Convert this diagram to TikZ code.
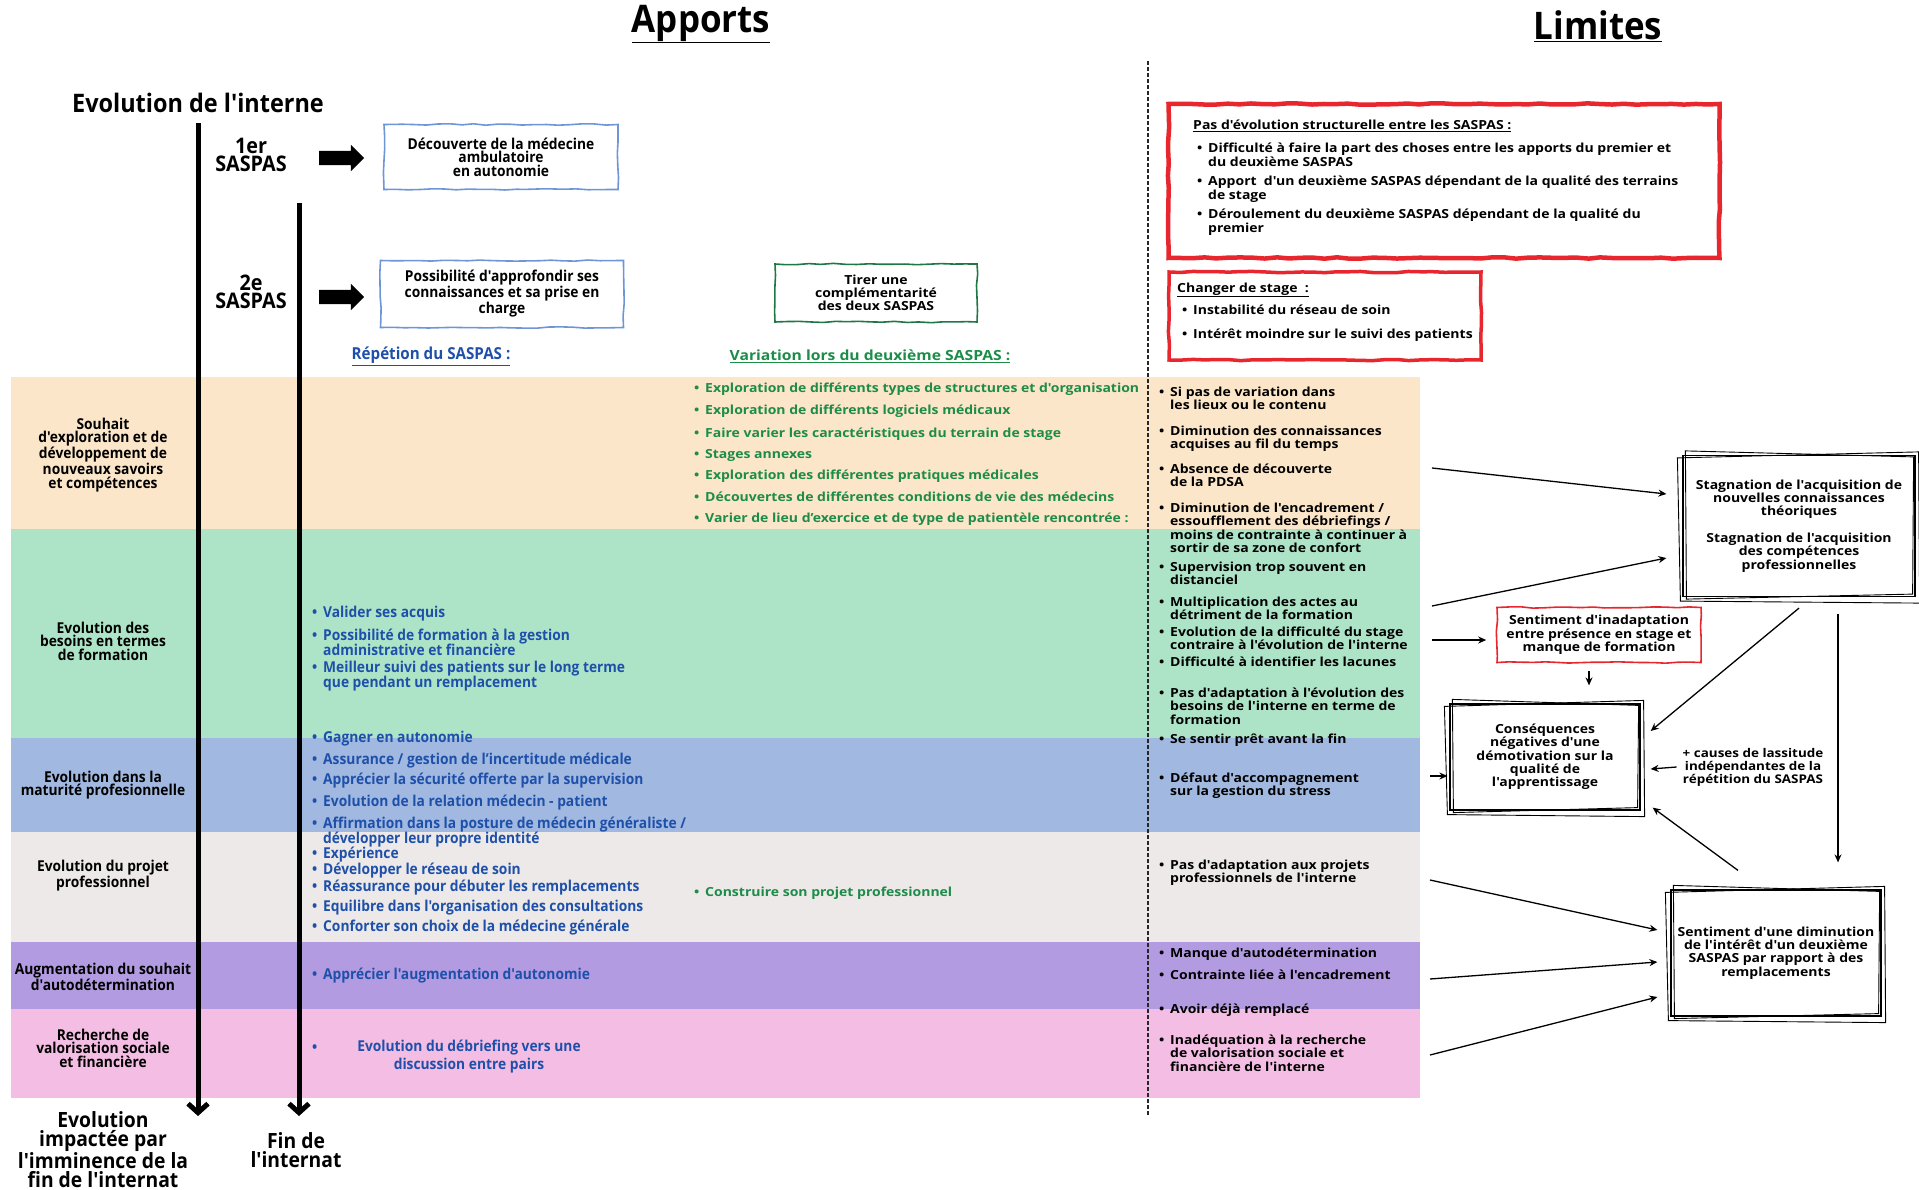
\documentclass[tikz,border=0pt]{standalone}
\usepackage{fontspec}
\setmainfont{Open Sans}
\newfontfamily\cond[FakeStretch=0.92]{Open Sans}
\newfontfamily\wide[FakeStretch=1.12]{Open Sans}
\usepackage{xcolor}
\usepackage{tikz}
\usetikzlibrary{arrows.meta,shapes.arrows,decorations.pathmorphing}

\definecolor{peach}{RGB}{252,230,201}
\definecolor{mint}{RGB}{173,228,199}
\definecolor{skyband}{RGB}{161,185,224}
\definecolor{greyband}{RGB}{236,233,232}
\definecolor{lilac}{RGB}{179,155,226}
\definecolor{pinkband}{RGB}{244,190,228}
\definecolor{bluetxt}{RGB}{30,80,170}
\definecolor{greentxt}{RGB}{28,140,72}
\definecolor{boxred}{RGB}{232,38,45}
\definecolor{boxblue}{RGB}{110,150,215}
\definecolor{boxgreen}{RGB}{30,120,70}

\newcommand{\bul}[1]{\makebox[11pt][l]{\textbullet}\begin{tabular}[t]{@{}l@{}}#1\end{tabular}}
\newcommand{\cnd}{\cond\bfseries\fontsize{15}{13.5}\selectfont}
\newcommand{\blk}{\wide\bfseries\fontsize{12.5}{13.3}\selectfont}
\newcommand{\grn}{\wide\bfseries\fontsize{12.5}{13.5}\selectfont}

\begin{document}
\begin{tikzpicture}[x=1pt,y=-1pt,
  heading/.style={font=\cond\bfseries\fontsize{38}{38}\selectfont},
  bandlbl/.style={align=center,font=\cnd},
  blueitem/.style={anchor=base west,font=\cnd,text=bluetxt},
  greenitem/.style={anchor=base west,font=\grn,text=greentxt},
  limitem/.style={anchor=base west,font=\blk},
  rough/.style={decorate,decoration={random steps,segment length=12pt,amplitude=0.7pt}},
  bluebox/.style={rough,draw=boxblue,line width=1.6pt,align=center,font=\cnd},
  greenbox/.style={rough,draw=boxgreen,line width=1.6pt,align=center,font=\blk},
  redbox/.style={rough,draw=boxred,line width=#1},
  sketchbox/.style={draw=black,line width=1.2pt,align=center,font=\blk},
  bigarrow/.style={single arrow,fill=black,minimum height=45pt,inner sep=7pt,single arrow head extend=6pt},
  timeline/.style={line width=5pt,-{Straight Barb[length=9pt,width=20pt]}},
  flow/.style={line width=1.3pt,-{Stealth[length=8pt,width=7pt]}}]
\tikzstyle{every node}+=[inner sep=0pt]
\pgfmathsetseed{7}
\useasboundingbox (0,0) rectangle (1919,1190);

\fill[peach] (11,377) rectangle (1420,529);
\fill[mint] (11,529) rectangle (1420,738);
\fill[skyband] (11,738) rectangle (1420,832);
\fill[greyband] (11,832) rectangle (1420,942);
\fill[lilac] (11,942) rectangle (1420,1009);
\fill[pinkband] (11,1009) rectangle (1420,1098);

\draw[dashed,line width=1.4pt,dash pattern=on 4pt off 2pt,black!85] (1148,61) -- (1148,1116);

\node[heading] (apports) at (701,24) {\underline{Apports}};
\node[heading] (limites) at (1598,26) {\underline{Limites}};
\node[font=\cond\bfseries\fontsize{25.5}{25}\selectfont] (interne) at (198,103) {Evolution de l'interne};

\node[align=center,font=\cond\bfseries\fontsize{21.5}{18.5}\selectfont] (saspasA) at (251,155) {1er\\SASPAS};
\node[align=center,font=\cond\bfseries\fontsize{21.5}{18.5}\selectfont] (saspasB) at (251,292) {2e\\SASPAS};
\node[bigarrow] (arrA) at (338,158) {};
\node[bigarrow] (arrB) at (338,297) {};
\node[bluebox,minimum width=234pt,minimum height=65pt] (decouverte) at (501,157) {Découverte de la médecine\\ambulatoire\\en autonomie};
\node[bluebox,minimum width=243pt,minimum height=67pt] (approfondir) at (502,294) {Possibilité d'approfondir ses\\connaissances et sa prise en\\charge};
\node[greenbox,minimum width=202pt,minimum height=58pt] (complement) at (876,293) {Tirer une\\complémentarité\\des deux SASPAS};
\node[font=\cond\bfseries\fontsize{16.5}{16}\selectfont,text=bluetxt] (repetition) at (431,356) {\underline{Répétion du SASPAS :}};
\node[font=\wide\bfseries\fontsize{14}{14}\selectfont,text=greentxt] (variation) at (870,356) {\underline{Variation lors du deuxième SASPAS :}};

\coordinate (finA) at (198,1116);
\node[align=center,font=\cond\bfseries\fontsize{21}{19}\selectfont] (imminence) at (103,1150) {Evolution\\impactée par\\l'imminence de la\\fin de l'internat};
\node[align=center,font=\cond\bfseries\fontsize{21}{19}\selectfont] (fin) at (296,1150) {Fin de\\l'internat};
\coordinate (debutB) at (299,203);
\draw[timeline] ([yshift=-10pt]interne.south) -- (finA);
\draw[timeline] (debutB) -- (debutB |- finA);

\node[bandlbl] (lblA) at (103,455) {Souhait\\d'exploration et de\\développement de\\nouveaux savoirs\\et compétences};
\node[bandlbl] (lblB) at (103,641) {Evolution des\\besoins en termes\\de formation};
\node[bandlbl] (lblC) at (103,785) {Evolution dans la\\maturité profesionnelle};
\node[bandlbl] (lblD) at (103,876) {Evolution du projet\\professionnel};
\node[bandlbl] (lblE) at (103,977) {Augmentation du souhait\\d'autodétermination};
\node[bandlbl] (lblF) at (103,1048) {Recherche de\\valorisation sociale\\et financière};

\foreach \y/\txt [count=\i] in {617/{Valider ses acquis},
  640/{Possibilité de formation à la gestion\\administrative et financière},
  672/{Meilleur suivi des patients sur le long terme\\que pendant un remplacement},
  742/{Gagner en autonomie},
  764/{Assurance / gestion de l’incertitude médicale},
  784/{Apprécier la sécurité offerte par la supervision},
  806/{Evolution de la relation médecin - patient},
  828/{Affirmation dans la posture de médecin généraliste /\\développer leur propre identité},
  858/{Expérience},
  874/{Développer le réseau de soin},
  891/{Réassurance pour débuter les remplacements},
  911/{Equilibre dans l'organisation des consultations},
  931/{Conforter son choix de la médecine générale},
  979/{Apprécier l'augmentation d'autonomie}}
  \node[blueitem] (apport\i) at (312,\y) {\bul{\txt}};
\node[blueitem] (apportdot) at (312,1052) {\textbullet};
\node[align=center,font=\cond\bfseries\fontsize{15}{18}\selectfont,text=bluetxt] (debrief) at (469,1057) {Evolution du débriefing vers une\\discussion entre pairs};

\foreach \y/\txt [count=\i] in {392/{Exploration de différents types de structures et d'organisation},
  414/{Exploration de différents logiciels médicaux},
  437/{Faire varier les caractéristiques du terrain de stage},
  458/{Stages annexes},
  479/{Exploration des différentes pratiques médicales},
  501/{Découvertes de différentes conditions de vie des médecins},
  522/{Varier de lieu d’exercice et de type de patientèle rencontrée :},
  896/{Construire son projet professionnel}}
  \node[greenitem] (variante\i) at (694,\y) {\bul{\txt}};

\foreach \y/\txt [count=\i] in {396/{Si pas de variation dans\\les lieux ou le contenu},
  435/{Diminution des connaissances\\acquises au fil du temps},
  473/{Absence de découverte\\de la PDSA},
  512/{Diminution de l'encadrement /\\essoufflement des débriefings /\\moins de contrainte à continuer à\\sortir de sa zone de confort},
  571/{Supervision trop souvent en\\distanciel},
  606/{Multiplication des actes au\\détriment de la formation},
  636/{Evolution de la difficulté du stage\\contraire à l'évolution de l'interne},
  666/{Difficulté à identifier les lacunes},
  697/{Pas d'adaptation à l'évolution des\\besoins de l'interne en terme de\\formation},
  743/{Se sentir prêt avant la fin},
  782/{Défaut d'accompagnement\\sur la gestion du stress},
  869/{Pas d'adaptation aux projets\\professionnels de l'interne},
  957/{Manque d'autodétermination},
  979/{Contrainte liée à l'encadrement},
  1013/{Avoir déjà remplacé},
  1044/{Inadéquation à la recherche\\de valorisation sociale et\\financière de l'interne}}
  \node[limitem] (limite\i) at (1159,\y) {\bul{\txt}};

\node[redbox=4.5pt,minimum width=551pt,minimum height=154pt] (structure) at (1444,181) {};
\node[limitem] (structtitre) at (1193,130) {\underline{Pas d'évolution structurelle entre les SASPAS :}};
\node[limitem] (struct1) at (1197,153) {\bul{Difficulté à faire la part des choses entre les apports du premier et\\du deuxième SASPAS}};
\node[limitem] (struct2) at (1197,186) {\bul{Apport\ \ d'un deuxième SASPAS dépendant de la qualité des terrains\\de stage}};
\node[limitem] (struct3) at (1197,219) {\bul{Déroulement du deuxième SASPAS dépendant de la qualité du\\premier}};

\node[redbox=3.5pt,minimum width=312pt,minimum height=88pt] (changer) at (1325,316) {};
\node[limitem] (changertitre) at (1177,292) {\underline{Changer de stage\ \ :}};
\node[limitem] (changer1) at (1182,315) {\bul{Instabilité du réseau de soin}};
\node[limitem] (changer2) at (1182,338) {\bul{Intérêt moindre sur le suivi des patients}};

\node[sketchbox,minimum width=232pt,minimum height=141pt] (stagnation) at (1799,526) {Stagnation de l'acquisition de\\nouvelles connaissances\\théoriques\\[13.3pt]Stagnation de l'acquisition\\des compétences\\professionnelles};
\node[redbox=1.6pt,minimum width=204pt,minimum height=55pt,align=center,font=\blk] (inadapt) at (1599,635) {Sentiment d'inadaptation\\entre présence en stage et\\manque de formation};
\node[sketchbox,minimum width=190pt,minimum height=106pt] (conseq) at (1545,757) {Conséquences\\négatives d'une\\démotivation sur la\\qualité de\\l'apprentissage};
\node[align=center,font=\wide\bfseries\fontsize{12}{13}\selectfont] (causes) at (1753,767) {+ causes de lassitude\\indépendantes de la\\répétition du SASPAS};
\node[sketchbox,minimum width=210pt,minimum height=126pt] (diminution) at (1776,953) {Sentiment d'une diminution\\de l'intérêt d'un deuxième\\SASPAS par rapport à des\\remplacements};
\foreach \n in {stagnation,conseq,diminution}{
  \draw[line width=0.9pt] ([shift={(-5,3)}]\n.north west) -- ([shift={(3,-3)}]\n.north east) -- ([shift={(4,6)}]\n.south east) -- ([shift={(-2,4)}]\n.south west) -- cycle;
  \draw[line width=0.9pt] ([shift={(3,-4)}]\n.north west) -- ([shift={(-2,2)}]\n.north east) -- ([shift={(-3,-3)}]\n.south east) -- ([shift={(4,2)}]\n.south west) -- cycle;
}

\coordinate (deA) at (1432,468);
\coordinate (deB) at (1432,606);
\coordinate (deC) at (1432,640);
\coordinate (deD) at (1430,776);
\coordinate (deE) at (1430,880);
\coordinate (deF) at (1430,979);
\coordinate (deG) at (1430,1055);
\draw[flow] (deA) -- ([shift={(-16,-32)}]stagnation.west);
\draw[flow] (deB) -- ([shift={(-16,32)}]stagnation.west);
\draw[flow] (deC) -- ([xshift=-10pt]inadapt.west |- deC);
\draw[flow] ([shift={(-10,8)}]inadapt.south) -- ([shift={(44,-18)}]conseq.north);
\draw[flow] (deD) -- ([shift={(-2,19)}]conseq.west);
\draw[flow] ([shift={(0,11)}]stagnation.south) -- ([shift={(10,-26)}]conseq.east);
\draw[flow] ([xshift=-6pt]causes.west) -- ([shift={(10,12)}]conseq.east);
\draw[flow] ([shift={(39,17)}]stagnation.south) -- ([shift={(62,-27)}]diminution.north);
\draw[flow] ([shift={(-38,-19)}]diminution.north) -- ([shift={(12,-3)}]conseq.south east);
\draw[flow] (deE) -- ([shift={(-13,-23)}]diminution.west);
\draw[flow] (deF) -- ([shift={(-13,9)}]diminution.west);
\draw[flow] (deG) -- ([shift={(-13,44)}]diminution.west);
\end{tikzpicture}
\end{document}
